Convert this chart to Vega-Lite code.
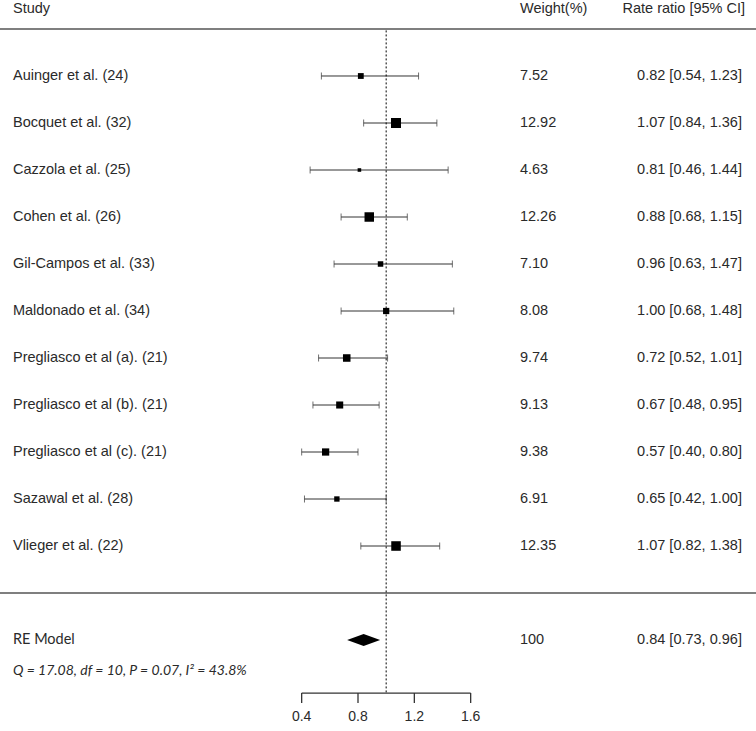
{
  "$schema": "https://vega.github.io/schema/vega-lite/v6.json",
  "width": 756,
  "height": 731,
  "padding": 0,
  "autosize": {"type": "none"},
  "background": "white",
  "config": {
    "view": {"stroke": null},
    "axis": {"disable": true},
    "legend": {"disable": true},
    "text": {"font": "Liberation Sans", "fontSize": 14.5, "color": "#2a2a2a"}
  },
  "datasets": {
    "studies": [
      {"study": "Auinger et al.  (24)", "row": 1, "weight": 7.52, "rr": 0.82, "lo": 0.54, "hi": 1.23, "ci": "0.82 [0.54, 1.23]"},
      {"study": "Bocquet et al. (32)", "row": 2, "weight": 12.92, "rr": 1.07, "lo": 0.84, "hi": 1.36, "ci": "1.07 [0.84, 1.36]"},
      {"study": "Cazzola et al. (25)", "row": 3, "weight": 4.63, "rr": 0.81, "lo": 0.46, "hi": 1.44, "ci": "0.81 [0.46, 1.44]"},
      {"study": "Cohen et al.  (26)", "row": 4, "weight": 12.26, "rr": 0.88, "lo": 0.68, "hi": 1.15, "ci": "0.88 [0.68, 1.15]"},
      {"study": "Gil-Campos et al. (33)", "row": 5, "weight": 7.10, "rr": 0.96, "lo": 0.63, "hi": 1.47, "ci": "0.96 [0.63, 1.47]"},
      {"study": "Maldonado et al. (34)", "row": 6, "weight": 8.08, "rr": 1.00, "lo": 0.68, "hi": 1.48, "ci": "1.00 [0.68, 1.48]"},
      {"study": "Pregliasco et al (a). (21)", "row": 7, "weight": 9.74, "rr": 0.72, "lo": 0.52, "hi": 1.01, "ci": "0.72 [0.52, 1.01]"},
      {"study": "Pregliasco et al (b). (21)", "row": 8, "weight": 9.13, "rr": 0.67, "lo": 0.48, "hi": 0.95, "ci": "0.67 [0.48, 0.95]"},
      {"study": "Pregliasco et al (c). (21)", "row": 9, "weight": 9.38, "rr": 0.57, "lo": 0.40, "hi": 0.80, "ci": "0.57 [0.40, 0.80]"},
      {"study": "Sazawal et al. (28)", "row": 10, "weight": 6.91, "rr": 0.65, "lo": 0.42, "hi": 1.00, "ci": "0.65 [0.42, 1.00]"},
      {"study": "Vlieger et al. (22)", "row": 11, "weight": 12.35, "rr": 1.07, "lo": 0.82, "hi": 1.38, "ci": "1.07 [0.82, 1.38]"}
    ],
    "pooled": [
      {"label": "RE Model", "row": 13, "weight": 100, "rr": 0.84, "lo": 0.73, "hi": 0.96, "ci": "0.84 [0.73, 0.96]", "stats": "Q = 17.08, df = 10, P = 0.07, I² = 43.8%"}
    ],
    "ticks": [{"v": 0.4}, {"v": 0.8}, {"v": 1.2}, {"v": 1.6}]
  },
  "layer": [
    {
      "data": {"name": "studies"},
      "mark": {"type": "rule", "color": "#333", "strokeWidth": 1},
      "encoding": {
        "x": {"field": "lo", "type": "quantitative", "scale": {"domain": [-1.742, 3.626], "nice": false, "zero": false}},
        "x2": {"field": "hi"},
        "y": {"field": "row", "type": "quantitative", "scale": {"domain": [-0.617, 14.936], "reverse": true, "nice": false, "zero": false}}
      }
    },
    {
      "data": {"values": [{}]},
      "mark": {"type": "rule", "color": "#555", "strokeWidth": 1.5},
      "encoding": {"x": {"datum": -1.742}, "x2": {"datum": 3.626}, "y": {"datum": 0}}
    },
    {
      "data": {"values": [{}]},
      "mark": {"type": "rule", "color": "#555", "strokeWidth": 1.5},
      "encoding": {"x": {"datum": -1.742}, "x2": {"datum": 3.626}, "y": {"datum": 12}}
    },
    {
      "data": {"values": [{}]},
      "mark": {"type": "rule", "color": "black", "strokeWidth": 1, "strokeDash": [2, 2]},
      "encoding": {"x": {"datum": 1}, "y": {"datum": 0.03}, "y2": {"datum": 14.13}}
    },
    {
      "data": {"name": "studies"},
      "mark": {"type": "tick", "orient": "vertical", "color": "#333", "size": 7, "thickness": 1},
      "encoding": {"x": {"field": "lo", "type": "quantitative"}, "y": {"field": "row", "type": "quantitative"}}
    },
    {
      "data": {"name": "studies"},
      "mark": {"type": "tick", "orient": "vertical", "color": "#333", "size": 7, "thickness": 1},
      "encoding": {"x": {"field": "hi", "type": "quantitative"}, "y": {"field": "row", "type": "quantitative"}}
    },
    {
      "data": {"name": "studies"},
      "mark": {"type": "point", "shape": "square", "filled": true, "color": "black", "opacity": 1, "strokeWidth": 0},
      "encoding": {
        "x": {"field": "rr", "type": "quantitative"},
        "y": {"field": "row", "type": "quantitative"},
        "size": {"field": "weight", "type": "quantitative", "scale": {"type": "pow", "exponent": 2, "domain": [0, 12.92], "range": [0, 100]}}
      }
    },
    {
      "data": {"name": "pooled"},
      "mark": {"type": "point", "shape": "M-1,0L0,-0.36L1,0L0,0.36Z", "size": 1089, "filled": true, "color": "black", "opacity": 1, "strokeWidth": 0},
      "encoding": {"x": {"field": "rr", "type": "quantitative"}, "y": {"field": "row", "type": "quantitative"}}
    },
    {
      "data": {"name": "studies"},
      "mark": {"type": "text", "align": "left", "baseline": "middle"},
      "encoding": {"x": {"datum": -1.65}, "y": {"field": "row", "type": "quantitative"}, "text": {"field": "study"}}
    },
    {
      "data": {"name": "studies"},
      "mark": {"type": "text", "align": "left", "baseline": "middle"},
      "encoding": {"x": {"datum": 1.95}, "y": {"field": "row", "type": "quantitative"}, "text": {"field": "weight", "format": ".2f"}}
    },
    {
      "data": {"name": "studies"},
      "mark": {"type": "text", "align": "right", "baseline": "middle"},
      "encoding": {"x": {"datum": 3.526}, "y": {"field": "row", "type": "quantitative"}, "text": {"field": "ci"}}
    },
    {
      "data": {"name": "pooled"},
      "mark": {"type": "text", "align": "left", "baseline": "middle", "font": "Lato", "fontSize": 14.5},
      "encoding": {"x": {"datum": -1.65}, "y": {"field": "row", "type": "quantitative"}, "text": {"field": "label"}}
    },
    {
      "data": {"name": "pooled"},
      "mark": {"type": "text", "align": "left", "baseline": "middle", "font": "Lato", "fontSize": 14, "fontStyle": "italic", "dy": 31},
      "encoding": {"x": {"datum": -1.65}, "y": {"field": "row", "type": "quantitative"}, "text": {"field": "stats"}}
    },
    {
      "data": {"name": "pooled"},
      "mark": {"type": "text", "align": "left", "baseline": "middle"},
      "encoding": {"x": {"datum": 1.95}, "y": {"field": "row", "type": "quantitative"}, "text": {"field": "weight"}}
    },
    {
      "data": {"name": "pooled"},
      "mark": {"type": "text", "align": "right", "baseline": "middle"},
      "encoding": {"x": {"datum": 3.526}, "y": {"field": "row", "type": "quantitative"}, "text": {"field": "ci"}}
    },
    {
      "data": {"values": [{}]},
      "mark": {"type": "text", "align": "left", "baseline": "middle", "text": "Study"},
      "encoding": {"x": {"datum": -1.65}, "y": {"datum": -0.43}}
    },
    {
      "data": {"values": [{}]},
      "mark": {"type": "text", "align": "left", "baseline": "middle", "text": "Weight(%)"},
      "encoding": {"x": {"datum": 1.95}, "y": {"datum": -0.43}}
    },
    {
      "data": {"values": [{}]},
      "mark": {"type": "text", "align": "right", "baseline": "middle", "text": "Rate ratio [95% CI]"},
      "encoding": {"x": {"datum": 3.548}, "y": {"datum": -0.43}}
    },
    {
      "data": {"name": "ticks"},
      "mark": {"type": "rule", "color": "#333", "strokeWidth": 1.3},
      "encoding": {"x": {"aggregate": "min", "field": "v", "type": "quantitative"}, "x2": {"aggregate": "max", "field": "v"}, "y": {"datum": 14.13}}
    },
    {
      "data": {"name": "ticks"},
      "mark": {"type": "rule", "color": "#333", "strokeWidth": 1.3},
      "encoding": {"x": {"field": "v", "type": "quantitative"}, "y": {"datum": 14.13}, "y2": {"datum": 14.34}}
    },
    {
      "data": {"name": "ticks"},
      "mark": {"type": "text", "align": "center", "baseline": "middle", "fontSize": 14},
      "encoding": {"x": {"field": "v", "type": "quantitative"}, "y": {"datum": 14.63}, "text": {"field": "v", "type": "quantitative", "format": ".1f"}}
    }
  ]
}
